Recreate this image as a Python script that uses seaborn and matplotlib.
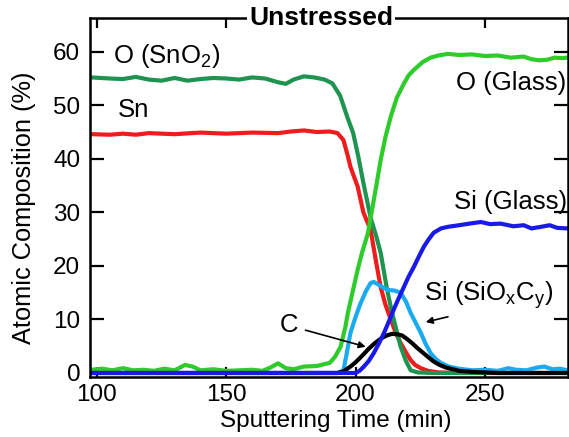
import numpy as np
import pandas as pd
import matplotlib
matplotlib.use("Agg")
import matplotlib.pyplot as plt
import seaborn as sns

# ---- data ----
t_o_sno2 = [98, 105, 110, 115, 120, 125, 130, 135, 140, 145, 150, 155, 160, 165, 170, 173, 176, 180, 184, 188,
            191, 194, 197, 199, 201, 203, 205.8, 208, 209.7, 212, 213.6, 215.5, 217.4, 219.5, 221.3, 224, 230, 282]
v_o_sno2 = [55.2, 55.0, 54.9, 55.3, 54.8, 54.6, 55.1, 54.6, 54.9, 55.1, 55.0, 54.8, 55.2, 55.0, 54.3, 54.0, 54.8, 55.4, 55.2, 54.8,
            54.1, 51.8, 47.5, 44.9, 40.5, 35.5, 29.0, 25.5, 22.4, 16.0, 12.3, 8.5, 4.9, 2.2, 0.5, 0.1, 0.0, 0.0]

t_sn = [98, 105, 110, 115, 120, 130, 140, 150, 160, 170, 175, 180, 185, 190, 193, 195.3, 197, 198, 200.8, 203,
        205.8, 208, 209.7, 211.5, 213.6, 215.5, 217.4, 219.5, 221.3, 223, 225.2, 228, 232, 240, 282]
v_sn = [44.6, 44.5, 44.7, 44.5, 44.8, 44.6, 44.9, 44.7, 44.9, 44.8, 45.1, 45.3, 45.0, 45.1, 44.8, 43.5, 40.5, 38.5, 34.8, 30.0,
        26.7, 20.5, 16.0, 12.8, 10.0, 7.5, 5.6, 3.8, 2.4, 1.5, 0.9, 0.4, 0.1, 0.0, 0.0]

t_o_glass = [98, 102, 106, 110, 114, 118, 122, 126, 130, 134, 137, 140, 145, 150, 155, 160, 164, 167, 170, 173,
             176, 180, 185, 190, 192, 194.2, 196, 197, 199, 200.8, 202.5, 204.7, 206, 208, 209.7, 211.5, 213.6, 216,
             218.6, 220.5, 222.5, 226, 229, 232, 235.7, 240, 245, 250, 255, 260, 265, 268, 271, 274, 277, 280, 282]
v_o_glass = [0.6, 0.8, 0.5, 0.9, 0.5, 0.6, 0.4, 0.8, 0.5, 1.5, 1.2, 0.5, 0.7, 0.4, 0.5, 0.6, 0.4, 1.0, 1.8, 0.9,
             0.7, 1.2, 1.3, 1.9, 3.0, 4.9, 8.5, 11.2, 15.5, 19.3, 22.5, 26.0, 29.5, 35.0, 39.8, 44.0, 47.9, 51.5,
             54.0, 55.6, 56.6, 58.1, 58.9, 59.3, 59.6, 59.4, 59.5, 59.2, 59.3, 58.9, 59.1, 58.6, 58.4, 58.5, 58.9, 58.8, 58.9]

t_si_glass = [98, 200, 201.5, 203, 205, 207, 209, 211, 213, 214.7, 216.5, 218.6, 220.5, 222.5, 224.5, 226.4, 228.3,
              230.2, 233, 235.7, 240, 244, 248.4, 252, 256, 261, 265, 268, 271.7, 275, 278, 282]
v_si_glass = [0.0, 0.0, 0.4, 1.1, 2.2, 3.7, 5.5, 7.5, 9.8, 11.8, 13.8, 16.0, 18.0, 19.8, 21.8, 23.6, 25.0,
              26.2, 27.0, 27.3, 27.6, 27.9, 28.2, 27.8, 27.9, 27.4, 27.6, 27.0, 27.3, 27.6, 27.1, 27.0]

t_si_sioc = [98, 193, 195.3, 196.5, 198, 200, 201.9, 204, 205.8, 207, 208.5, 210.5, 212.4, 215, 217.4, 219.5, 221.3,
             223.3, 225.2, 227, 229, 231, 232.9, 236, 240, 245, 250, 255, 259, 262, 266, 270, 273, 276, 279, 282]
v_si_sioc = [0.0, 0.0, 0.5, 3.5, 7.5, 10.5, 13.0, 15.3, 16.8, 17.0, 16.6, 16.0, 15.5, 15.4, 15.0, 13.3, 11.2,
             9.3, 7.5, 5.5, 3.7, 2.6, 1.9, 1.2, 0.8, 0.5, 0.6, 0.4, 0.9, 0.6, 0.5, 1.0, 1.2, 0.7, 0.8, 0.5]

t_c = [98, 193, 195.3, 198, 200, 202.5, 205, 207.5, 210, 212, 214, 216, 218, 220, 222, 224, 226, 228, 230,
       232.5, 235, 237.5, 240, 245, 250, 255, 282]
v_c = [0.0, 0.0, 0.3, 1.2, 2.0, 3.2, 4.5, 5.6, 6.5, 7.0, 7.3, 7.25, 7.0, 6.3, 5.5, 4.6, 3.8, 3.0, 2.2,
       1.5, 1.0, 0.7, 0.4, 0.2, 0.1, 0.0, 0.0]

x_ticks = [100, 150, 200, 250]
y_ticks = [0, 10, 20, 30, 40, 50, 60]

# ---- style ----
sns.set_style("ticks")
plt.rcParams['font.family'] = ['Liberation Sans', 'DejaVu Sans']
plt.rcParams.update({"text.color": "black", "axes.labelcolor": "black",
                     "xtick.color": "black", "ytick.color": "black"})

fig = plt.figure(figsize=(5.69, 4.37), dpi=100)
ax = fig.add_axes([0.1582, 0.1373, 0.8395, 0.8215])

series = [
    (t_sn, v_sn, "#ee1c1c"),
    (t_o_sno2, v_o_sno2, "#1e9450"),
    (t_o_glass, v_o_glass, "#2ecc2a"),
    (t_si_sioc, v_si_sioc, "#1aaaf0"),
    (t_c, v_c, "#000000"),
    (t_si_glass, v_si_glass, "#1a1ae8"),
]
for t, v, col in series:
    df = pd.DataFrame({"t": t, "v": v})
    sns.lineplot(data=df, x="t", y="v", ax=ax, color=col, lw=3.0, solid_joinstyle="round", solid_capstyle="round")

ax.set_xlim(97.3, 282)
ax.set_ylim(-0.75, 66.3)
ax.set_xticks(x_ticks)
ax.set_yticks(y_ticks)
ax.tick_params(axis="both", direction="in", top=True, right=True, width=1.6, labelsize=17.5,
               colors="black", labelcolor="black")
ax.tick_params(axis="y", length=10, pad=7)
ax.tick_params(axis="x", length=7, pad=5)
for s in ax.spines.values():
    s.set_linewidth(1.8)
    s.set_color("black")

ax.set_xlabel("Sputtering Time (min)", fontsize=17.5, color="black")
ax.set_ylabel("Atomic Composition (%)", fontsize=18.3, color="black")
ax.xaxis.set_label_coords(0.514, -0.092)
ax.yaxis.set_label_coords(-0.113, 0.472)

ax.text(0.484, 1.0, "Unstressed", transform=ax.transAxes, ha="center", va="center",
        fontsize=19, fontweight="bold", color="black",
        bbox=dict(facecolor="white", edgecolor="none", pad=1.5), zorder=10, clip_on=False)

fs = 18.5
ax.text(106.2, 59.2, r"O (SnO$_\mathregular{2}$)", fontsize=fs, ha="left", va="center", color="black")
ax.text(108.1, 49.2, "Sn", fontsize=fs, ha="left", va="center", color="black")
ax.text(238.8, 54.2, "O (Glass)", fontsize=fs, ha="left", va="center", color="black")
ax.text(238.0, 32.0, "Si (Glass)", fontsize=fs, ha="left", va="center", color="black")
ax.text(226.3, 14.5, r"Si (SiO$_\mathregular{x}$C$_\mathregular{y}$)", fontsize=fs, ha="left", va="center", color="black")
ax.text(174.4, 9.0, "C", fontsize=fs, ha="center", va="center", color="black")

ax.annotate("", xy=(227.1, 9.5), xytext=(235.7, 10.5),
            arrowprops=dict(arrowstyle="-|>", lw=1.2, color="black", mutation_scale=10, shrinkA=0, shrinkB=0))
ax.annotate("", xy=(203.9, 4.9), xytext=(180.6, 8.0),
            arrowprops=dict(arrowstyle="-|>", lw=1.2, color="black", mutation_scale=10, shrinkA=0, shrinkB=0))

fig.savefig("out.png", dpi=100)
